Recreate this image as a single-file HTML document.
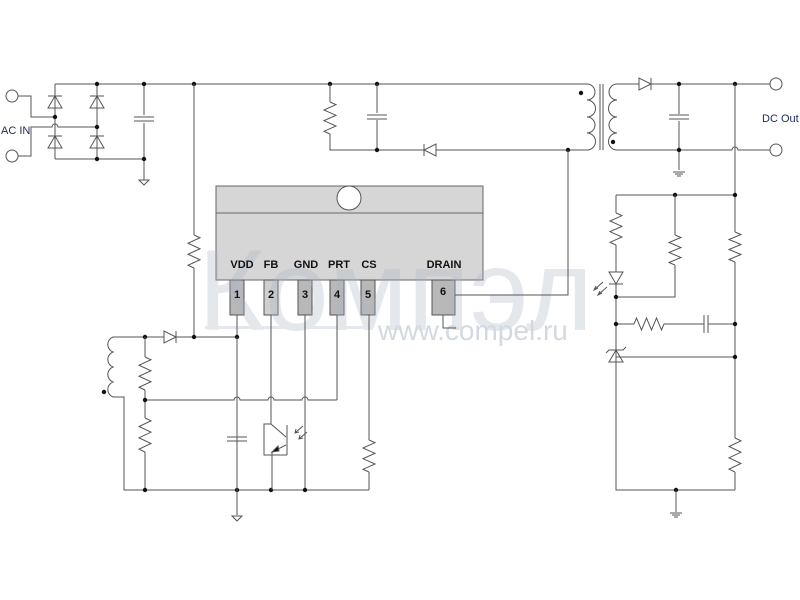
<!DOCTYPE html>
<html><head><meta charset="utf-8"><style>
html,body{margin:0;padding:0;background:#fff;width:800px;height:600px;overflow:hidden}
svg{display:block}
text{font-family:"Liberation Sans",Arial,sans-serif}
</style></head><body>
<svg id="s" width="800" height="600" viewBox="0 0 800 600" xmlns="http://www.w3.org/2000/svg">
<g id="ic">
<rect x="216" y="186" width="267" height="94" fill="#d6d6d6" stroke="#666"/>
<line x1="216" y1="213" x2="483" y2="213" stroke="#666"/>
<circle cx="349" cy="198" r="12" fill="#fff" stroke="#555"/>
<g stroke="#555" fill="#b8b8b8">
<rect x="230" y="280" width="14" height="35"/><rect x="264" y="280" width="14" height="35" fill="#cfcfcf"/><rect x="298" y="280" width="14" height="35"/><rect x="330" y="280" width="14" height="35"/><rect x="361" y="280" width="14" height="35"/><rect x="432" y="280" width="23" height="35"/>
</g>
</g>
<g id="wm" opacity="0.3">
<text x="198" y="330" font-family="Liberation Serif,serif" font-size="115" fill="#a9b5c4" textLength="395" lengthAdjust="spacingAndGlyphs">Компэл</text>
<rect x="205" y="326" width="168" height="3" fill="#a9b5c4"/>
</g>
<text x="378" y="340" font-size="28" fill="#d3d9e1">www.compel.ru</text>
<g font-size="11" font-weight="bold" fill="#111" text-anchor="middle">
<text x="242" y="268">VDD</text><text x="271" y="268">FB</text><text x="306" y="268">GND</text><text x="339" y="268">PRT</text><text x="369" y="268">CS</text><text x="444" y="268">DRAIN</text>
<text x="237" y="298">1</text><text x="271" y="298">2</text><text x="305" y="298">3</text><text x="337" y="298">4</text><text x="368" y="298">5</text><text x="443" y="295">6</text>
</g>
<text x="1" y="134" font-size="11" fill="#1a2a5a">AC IN</text>
<text x="762" y="122" font-size="11" fill="#1a2a5a">DC Out</text>
<g id="w" stroke="#555" stroke-width="1" fill="none"></g>
</svg>
<script>
const g=document.getElementById('w');const NS='http://www.w3.org/2000/svg';
function el(t,a){const e=document.createElementNS(NS,t);for(const k in a)e.setAttribute(k,a[k]);g.appendChild(e);return e;}
function P(d,extra){return el('path',Object.assign({d:d},extra||{}));}
function L(pts){P('M'+pts.map(p=>p.join(',')).join(' L'));}
function dot(x,y){el('circle',{cx:x,cy:y,r:2.2,fill:'#111',stroke:'none'});}
function term(x,y){el('circle',{cx:x,cy:y,r:6,fill:'#fff'});}
function rv(x,y0,y1){let d='M'+x+','+y0;const n=6,h=(y1-y0)/n;for(let i=0;i<n;i++){d+=' L'+(x+(i%2?-6:6))+','+(y0+h*(i+0.5));}d+=' L'+x+','+y1;P(d);}
function rh(y,x0,x1){let d='M'+x0+','+y;const n=6,h=(x1-x0)/n;for(let i=0;i<n;i++){d+=' L'+(x0+h*(i+0.5))+','+(y+(i%2?6:-6));}d+=' L'+x1+','+y;P(d);}
function capv(x,y){L([[x-10,y-2],[x+10,y-2]]);L([[x-10,y+2],[x+10,y+2]]);}
function caph(x,y){L([[x-2,y-9],[x-2,y+9]]);L([[x+2,y-9],[x+2,y+9]]);}
function dup(x,y){P(`M${x-7},${y+6} L${x+7},${y+6} L${x},${y-6} Z`);L([[x-7,y-6],[x+7,y-6]]);}
function ddown(x,y){P(`M${x-7},${y-6} L${x+7},${y-6} L${x},${y+6} Z`);L([[x-7,y+6],[x+7,y+6]]);}
function dright(x,y){P(`M${x-6},${y-6} L${x-6},${y+6} L${x+6},${y} Z`);L([[x+6,y-6],[x+6,y+6]]);}
function dleft(x,y){P(`M${x+6},${y-6} L${x+6},${y+6} L${x-6},${y} Z`);L([[x-6,y-6],[x-6,y+6]]);}
function gnd(x,y){P(`M${x-5},${y} L${x+5},${y} L${x},${y+5} Z`);}
function gnd2(x,y){L([[x-6,y],[x+6,y]]);L([[x-4,y+2],[x+4,y+2]]);L([[x-2,y+4],[x+2,y+4]]);}
term(12,96);term(12,156);
L([[18,96],[31,96],[31,117],[55,117]]);
P(`M18,156 L31,156 L31,127 L52,127 A3,3 0 0 1 58,127 L97,127`);
L([[55,84],[55,159]]);L([[97,84],[97,159]]);
dup(55,102);dup(55,142);dup(97,102);dup(97,142);
L([[55,84],[587,84]]);L([[55,159],[144,159]]);
L([[144,84],[144,115]]);L([[144,123],[144,180]]);capv(144,119);gnd(144,180);
[[55,117],[97,84],[144,84],[97,127],[97,159],[144,159],[194,84],[330,84],[377,84]].forEach(p=>dot(...p));
L([[194,84],[194,235]]);rv(194,235,268);L([[194,268],[194,337]]);
L([[330,84],[330,102]]);rv(330,102,134);L([[330,134],[330,150],[424,150]]);
L([[377,84],[377,113]]);L([[377,120],[377,150]]);capv(377,117);dot(377,150);
dleft(430,150);L([[436,150],[587,150]]);dot(568,150);
L([[568,150],[568,295],[455,295]]);
P('M587,84 A8,8 0 0 1 587,100 A8,8 0 0 1 587,117 A8,8 0 0 1 587,133 A8,8 0 0 1 587,150');
L([[600,84],[600,150]]);L([[603,84],[603,150]]);
P('M617,84 A8,8 0 0 0 617,100 A8,8 0 0 0 617,117 A8,8 0 0 0 617,133 A8,8 0 0 0 617,150');
dot(581,93);dot(613,142);
L([[617,84],[639,84]]);dright(645,84);L([[651,84],[770,84]]);term(776,84);
P('M617,150 L732,150 A3,3 0 0 1 738,150 L770,150');term(776,150);
L([[679,84],[679,114]]);L([[679,121],[679,170]]);capv(679,117);gnd2(679,172);
dot(679,84);dot(679,150);dot(735,84);
L([[735,84],[735,232]]);rv(735,232,262);L([[735,262],[735,438]]);rv(735,438,472);L([[735,472],[735,490]]);
L([[616,195],[735,195]]);dot(675,195);dot(735,195);
L([[616,195],[616,213]]);rv(616,213,245);L([[616,245],[616,272]]);ddown(616,278);L([[616,284],[616,490],[735,490]]);
L([[675,195],[675,235]]);rv(675,235,265);L([[675,265],[675,297],[616,297]]);dot(616,297);
L([[616,324],[634,324]]);rh(324,634,664);L([[664,324],[704,324]]);caph(706,324);L([[708,324],[735,324]]);dot(616,324);dot(735,324);
P('M609,362 L623,362 L616,350 Z');P('M606,353 L609,350 L623,350 L626,347');
L([[616,357],[735,357]]);dot(735,357);
dot(676,490);L([[676,490],[676,512]]);gnd2(676,513);
P('M603,282 L594,290 M598,288 L594,290 L596,286');P('M607,287 L598,295 M602,293 L598,295 L600,291');
L([[237,315],[237,490]]);L([[271,315],[271,424]]);L([[305,315],[305,490]]);
L([[337,315],[337,400]]);
P('M337,400 L308,400 A3,3 0 0 0 302,400 L274,400 A3,3 0 0 0 268,400 L240,400 A3,3 0 0 0 234,400 L145,400');
L([[369,315],[369,440]]);rv(369,440,472);L([[369,472],[369,490]]);
L([[443,315],[443,328],[456,328]]);
P('M113,337 A8,8 0 0 0 113,352 A8,8 0 0 0 113,367 A8,8 0 0 0 113,382 A8,8 0 0 0 113,397');
dot(104,392);
L([[113,337],[164,337]]);dright(170,337);L([[176,337],[237,337]]);dot(145,337);dot(194,337);dot(237,337);
L([[145,337],[145,357]]);rv(145,357,390);L([[145,390],[145,418]]);rv(145,418,452);L([[145,452],[145,490]]);dot(145,400);
L([[113,397],[124,397],[124,490],[369,490]]);
[[145,490],[237,490],[271,490],[305,490]].forEach(p=>dot(...p));
L([[237,337],[237,433]]);capv(237,439);L([[237,443],[237,515]]);gnd(237,516);
L([[271,424],[264,424],[264,455],[287,455]]);L([[287,425],[287,455]]);
L([[271,424],[286,437]]);L([[286,445],[272,452],[272,490]]);P('M272,452 L278,446 L279,451 Z',{fill:'#111'});
P('M303,426 L295,433 M299,432 L295,433 L296,429');P('M307,432 L299,439 M303,438 L299,439 L300,435');
</script>
</body></html>
